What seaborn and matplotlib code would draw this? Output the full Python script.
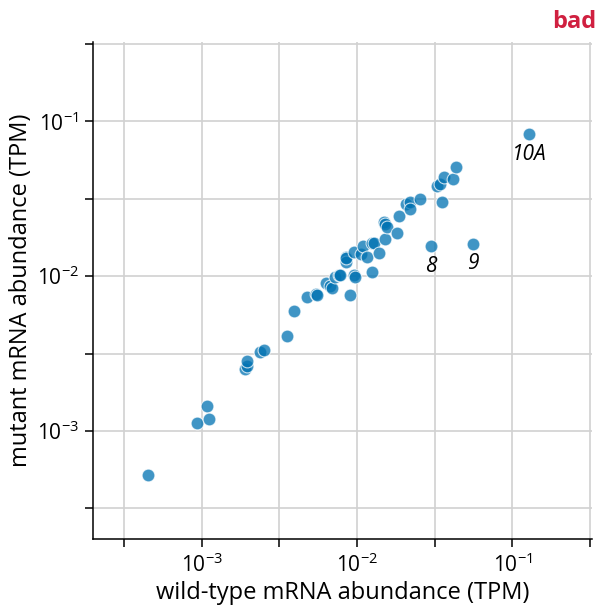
import numpy as np
import pandas as pd
import seaborn as sns
import matplotlib.pyplot as plt

# wild-type vs mutant abundances (TPM)
wild_type = [4.54e-4, 9.38e-4, 1.077e-3, 1.12e-3, 1.90e-3, 1.95e-3, 1.97e-3, 2.39e-3,
             2.54e-3, 3.57e-3, 3.91e-3, 4.79e-3, 5.49e-3, 5.57e-3, 6.31e-3, 6.69e-3,
             6.95e-3, 7.19e-3, 7.63e-3, 7.75e-3, 8.44e-3, 8.51e-3, 8.55e-3, 9.0e-3,
             9.5e-3, 9.55e-3, 9.7e-3, 1.06e-2, 1.10e-2, 1.16e-2, 1.25e-2, 1.25e-2,
             1.28e-2, 1.38e-2, 1.51e-2, 1.49e-2, 1.51e-2, 1.56e-2, 1.80e-2, 1.87e-2,
             2.07e-2, 2.19e-2, 2.19e-2, 2.56e-2, 2.98e-2, 3.25e-2, 3.41e-2, 3.53e-2,
             3.62e-2, 4.13e-2, 4.34e-2, 5.56e-2, 0.128]
mutant = [5.21e-4, 1.125e-3, 1.45e-3, 1.20e-3, 2.53e-3, 2.64e-3, 2.85e-3, 3.22e-3,
          3.32e-3, 4.12e-3, 5.94e-3, 7.38e-3, 7.64e-3, 7.57e-3, 8.99e-3, 8.65e-3,
          8.44e-3, 9.84e-3, 1.02e-2, 1.02e-2, 1.33e-2, 1.24e-2, 1.30e-2, 7.50e-3,
          1.44e-2, 1.01e-2, 9.93e-3, 1.39e-2, 1.56e-2, 1.33e-2, 1.06e-2, 1.63e-2,
          1.63e-2, 1.42e-2, 1.74e-2, 2.22e-2, 2.16e-2, 2.06e-2, 1.91e-2, 2.46e-2,
          2.94e-2, 3.01e-2, 2.70e-2, 3.13e-2, 1.56e-2, 3.82e-2, 3.95e-2, 3.01e-2,
          4.36e-2, 4.26e-2, 5.03e-2, 1.62e-2, 8.25e-2]

outlier_labels = ["8", "9", "10A"]
outlier_wt = [2.98e-2, 5.56e-2, 0.128]
outlier_mut = [1.56e-2, 1.62e-2, 8.25e-2]

tick_vals = 10 ** np.arange(-3.5, -0.4, 0.5)
tick_labels = ["", "$10^{-3}$", "", "$10^{-2}$", "", "$10^{-1}$", ""]

df = pd.DataFrame({"wt": wild_type, "mut": mutant})

sns.set_style("whitegrid", {"grid.color": ".82", "axes.edgecolor": "black",
                            "text.color": "black", "axes.labelcolor": "black",
                            "xtick.color": "black", "ytick.color": "black"})
plt.rcParams["font.family"] = ["Open Sans", "DejaVu Sans"]
plt.rcParams["mathtext.fontset"] = "custom"
plt.rcParams["mathtext.rm"] = "Open Sans"
plt.rcParams["mathtext.it"] = "Open Sans:italic"
plt.rcParams["xtick.bottom"] = True
plt.rcParams["ytick.left"] = True

fig = plt.figure(figsize=(5.99, 6.11), dpi=100)
ax = fig.add_axes([0.1548, 0.1173, 0.833, 0.8135])

sns.scatterplot(data=df, x="wt", y="mut", ax=ax, color="#0072B2", alpha=0.75,
                s=85, edgecolor="white", linewidth=0.8, zorder=3)

ax.set_xscale("log")
ax.set_yscale("log")
ax.set_xlim(10 ** -3.7, 10 ** -0.49)
ax.set_ylim(10 ** -3.7, 10 ** -0.49)
ax.set_xticks(tick_vals)
ax.set_xticklabels(tick_labels)
ax.set_yticks(tick_vals)
ax.set_yticklabels(tick_labels)
ax.minorticks_off()
ax.tick_params(length=6, width=1.1, color="black", labelsize=15, pad=4)
ax.grid(True, linewidth=1.2)
for sp in ["left", "bottom"]:
    ax.spines[sp].set_linewidth(1.1)
sns.despine(ax=ax)

ax.set_xlabel("wild-type mRNA abundance (TPM)", fontsize=17, labelpad=3)
ax.set_ylabel("mutant mRNA abundance (TPM)", fontsize=17, labelpad=3)

for lab, x, y in zip(outlier_labels, outlier_wt, outlier_mut):
    ax.annotate(lab, (x, y), xytext=(0, -7), textcoords="offset points",
                ha="center", va="top", fontsize=15, style="italic", color="black")

fig.text(0.995, 0.954, "bad", ha="right", va="baseline", fontsize=17,
         fontweight="bold", color="#D02040")

fig.savefig("out.png", dpi=100)
